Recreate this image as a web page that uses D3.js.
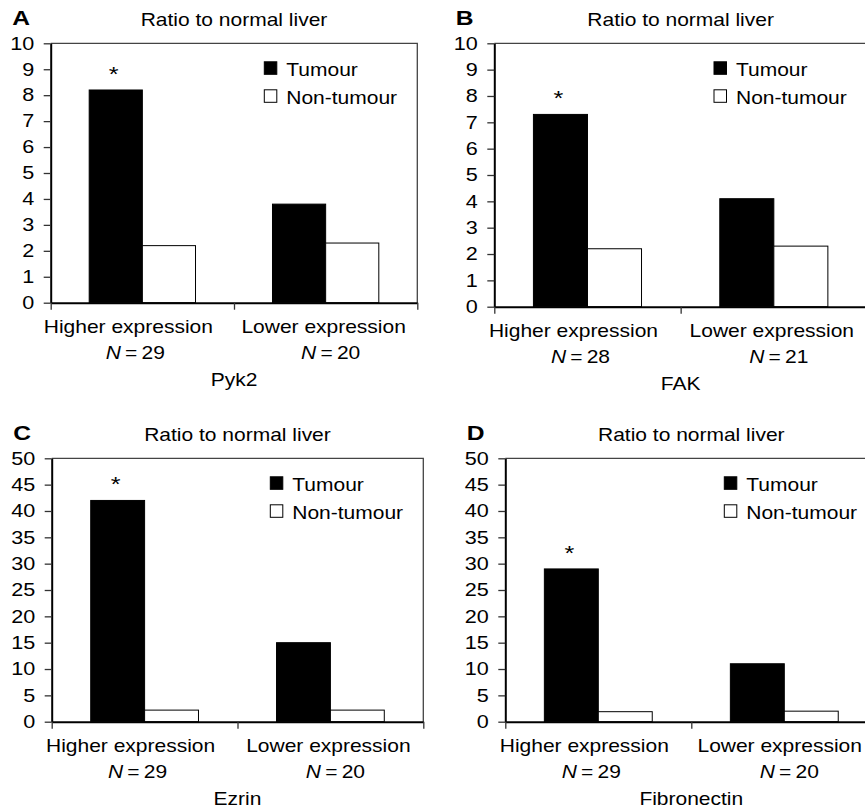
<!DOCTYPE html>
<meta charset="utf-8">
<title>Ratio to normal liver</title>
<script src="https://d3js.org/d3.v7.min.js"></script>
<style>
  body { margin: 0; background: #fff; }
  text { font-family: "Liberation Sans", Arial, sans-serif; fill: #000; }
</style>
<body>
</body>
<script>
// data
var categories = ["Higher expression", "Lower expression"];
var seriesNames = ["Tumour", "Non-tumour"];
var panelLetters = ["A", "B", "C", "D"];
var markerNames = ["Pyk2", "FAK", "Ezrin", "Fibronectin"];
var groupN = [[29, 20], [28, 21], [29, 20], [29, 20]];
var tumourValues = [[8.2, 3.8], [7.3, 4.1], [42, 15], [29, 11]];
var nonTumourValues = [[2.2, 2.3], [2.2, 2.3], [2.2, 2.2], [1.9, 2.0]];
var yMax = [10, 10, 50, 50];
var yStep = [1, 1, 5, 5];
var starred = [[true, false], [true, false], [true, false], [true, false]];
var fills = ["#000", "#fff"];

// plot boxes, in page pixels
var boxes = [
  {left: 50.7, top: 43.3, bottom: 302.7, right: 417.3},
  {left: 494.3, top: 43.3, bottom: 306.7, right: 867},
  {left: 51.7, top: 458.3, bottom: 721.7, right: 423.3},
  {left: 505.3, top: 458.3, bottom: 721.7, right: 877.3}
];
// the category labels in the original sit a little off the band centre
var labelShift = [-14, -2];
var nShift = [-7, 5];
var textSize = "17.5px";
var stretch = 1.2;   // the original type is set a bit wide
var pageRight = 862;

var svg = d3.select("body").append("svg")
            .attr("width", 865)
            .attr("height", 812);

function widen(sel) {
  sel.each(function () {
    var t = d3.select(this);
    var ax = +t.attr("x") || 0;
    t.attr("transform", "translate(" + ax + ",0) scale(" + stretch + ",1) translate(" + (-ax) + ",0)");
  });
}

function drawPanel(p) {
  var b = boxes[p];
  var g = svg.append("g");

  var x = d3.scaleBand().domain(categories).range([b.left, b.right]);
  var y = d3.scaleLinear().domain([0, yMax[p]]).range([b.bottom, b.top]);
  var barW = x.bandwidth() * 0.29;
  var xs = d3.scaleBand().domain(seriesNames)
             .range([-barW, barW]);

  var rows = [];
  categories.forEach(function (c, i) {
    rows.push({cat: c, s: seriesNames[0], v: tumourValues[p][i], star: starred[p][i]});
    rows.push({cat: c, s: seriesNames[1], v: nonTumourValues[p][i], star: false});
  });

  // frame (top and right)
  g.append("path")
   .attr("d", "M" + b.left + "," + b.top + "H" + b.right + "V" + b.bottom)
   .attr("fill", "none")
   .attr("stroke", "#444")
   .attr("stroke-width", 1.3);

  g.selectAll("rect.bar")
   .data(rows)
   .enter().append("rect")
   .attr("class", "bar")
   .attr("x", function (d) { return x(d.cat) + x.bandwidth() / 2 + xs(d.s); })
   .attr("y", function (d) { return y(d.v); })
   .attr("width", xs.bandwidth())
   .attr("height", function (d) { return y(0) - y(d.v); })
   .attr("fill", function (d) { return d.s === seriesNames[0] ? fills[0] : fills[1]; })
   .attr("stroke", "#000")
   .attr("stroke-width", 1);

  g.selectAll("text.star")
   .data(rows.filter(function (d) { return d.star; }))
   .enter().append("text")
   .attr("class", "star")
   .attr("x", function (d) { return x(d.cat) + x.bandwidth() / 2 + xs(d.s) + xs.bandwidth() / 2 - 2; })
   .attr("y", function (d) { return y(d.v) - 9; })
   .attr("text-anchor", "middle")
   .style("font-size", "21px")
   .text("*");

  // y axis
  var yAxis = g.append("g")
               .attr("transform", "translate(" + b.left + ",0)")
               .call(d3.axisLeft(y)
                       .tickValues(d3.range(0, yMax[p] + 0.001, yStep[p]))
                       .tickSize(7)
                       .tickPadding(9.5)
                       .tickSizeOuter(0));
  yAxis.select(".domain").attr("stroke", "#000").attr("stroke-width", 2);
  yAxis.selectAll(".tick line").attr("stroke", "#333").attr("stroke-width", 1.3);
  yAxis.selectAll(".tick text")
       .style("font-size", "18px")
       .attr("font-family", null);

  // x axis with ticks at the category edges
  var xEdge = d3.scaleLinear().domain([0, categories.length]).range([b.left, b.right]);
  var xAxis = g.append("g")
               .attr("transform", "translate(0," + b.bottom + ")")
               .call(d3.axisBottom(xEdge)
                       .tickValues(d3.range(0, categories.length + 1))
                       .tickFormat("")
                       .tickSize(7)
                       .tickSizeOuter(0));
  xAxis.select(".domain").attr("stroke", "#000").attr("stroke-width", 2);
  xAxis.selectAll(".tick line").attr("stroke", "#333").attr("stroke-width", 1.3);

  // category labels
  categories.forEach(function (c, i) {
    var cx = x(c) + x.bandwidth() / 2;
    var lab = g.append("text")
               .attr("x", cx + labelShift[i])
               .attr("y", b.bottom + 30.5)
               .attr("text-anchor", "middle")
               .style("font-size", textSize)
               .text(c);
    // keep the label inside the page, as the original does
    var half = lab.node().getComputedTextLength() * stretch / 2;
    var over = cx + labelShift[i] + half - pageRight;
    if (over > 0) lab.attr("x", cx + labelShift[i] - over);
    var t = g.append("text")
             .attr("x", cx + nShift[i])
             .attr("y", b.bottom + 56.5)
             .attr("text-anchor", "middle")
             .style("font-size", textSize);
    t.append("tspan").style("font-style", "italic").text("N");
    t.append("tspan").text("\u2009=\u2009" + groupN[p][i]);
  });

  g.append("text")
   .attr("x", (b.left + b.right) / 2)
   .attr("y", b.bottom + 83)
   .attr("text-anchor", "middle")
   .style("font-size", textSize)
   .text(markerNames[p]);

  // title and panel letter
  g.append("text")
   .attr("x", (b.left + b.right) / 2)
   .attr("y", b.top - 17.5)
   .attr("text-anchor", "middle")
   .style("font-size", textSize)
   .text("Ratio to normal liver");

  g.append("text")
   .attr("x", b.left - 38.5)
   .attr("y", b.top - 18)
   .style("font-size", "20.5px")
   .style("font-weight", "bold")
   .text(panelLetters[p]);

  // legend
  var lg = g.append("g")
            .attr("transform", "translate(" + (b.right - 153) + "," + (b.top + 18.5) + ")");
  var items = lg.selectAll("g")
                .data(seriesNames)
                .enter().append("g")
                .attr("transform", function (d, i) { return "translate(0," + (i * 28) + ")"; });
  items.append("rect")
       .attr("width", 12.5)
       .attr("height", 12.5)
       .attr("fill", function (d, i) { return fills[i]; })
       .attr("stroke", "#000")
       .attr("stroke-width", 1);
  items.append("text")
       .attr("x", 22)
       .attr("y", 14)
       .style("font-size", textSize)
       .text(function (d) { return d; });
}

for (var p = 0; p < boxes.length; p++) {
  drawPanel(p);
}

// widen every label about its own anchor point
widen(svg.selectAll("text"));
</script>
